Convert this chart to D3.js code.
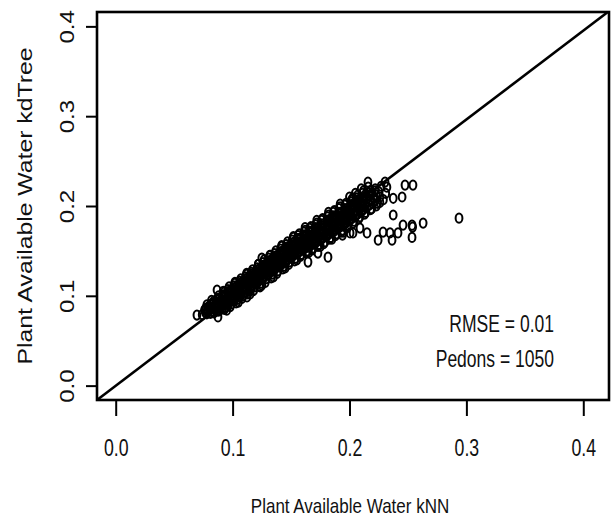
<!DOCTYPE html>
<html>
<head>
<meta charset="utf-8">
<script src="https://cdn.jsdelivr.net/npm/d3@7"></script>
<style>
  body { margin: 0; background: #fff; }
  svg { display: block; font-family: "Liberation Sans", Arial, sans-serif; }
</style>
</head>
<body>
<svg id="chart" width="611" height="521"></svg>
<script>
// plant available water, kNN estimate vs kdTree estimate
const bandPoints = [
  [0.074,0.079],[0.076,0.084],[0.077,0.081],
  [0.079,0.082],[0.080,0.088],[0.081,0.085],[0.082,0.091],
  [0.084,0.081],[0.085,0.086],[0.086,0.090],[0.084,0.094],[0.087,0.097],
  [0.089,0.084],[0.090,0.088],[0.091,0.093],[0.089,0.097],[0.092,0.101],[0.091,0.090],
  [0.094,0.087],[0.095,0.091],[0.096,0.095],[0.094,0.099],[0.097,0.103],[0.096,0.107],
  [0.099,0.091],[0.100,0.095],[0.101,0.099],[0.099,0.103],[0.102,0.107],[0.101,0.111],[0.100,0.101],
  [0.104,0.096],[0.105,0.100],[0.106,0.104],[0.104,0.108],[0.107,0.112],[0.106,0.116],[0.105,0.106],
  [0.109,0.100],[0.110,0.104],[0.111,0.109],[0.109,0.113],[0.112,0.117],[0.111,0.121],[0.110,0.111],
  [0.114,0.105],[0.115,0.109],[0.116,0.114],[0.114,0.118],[0.117,0.122],[0.116,0.126],[0.115,0.116],
  [0.119,0.110],[0.120,0.114],[0.121,0.119],[0.119,0.123],[0.122,0.127],[0.121,0.131],[0.120,0.121],
  [0.124,0.114],[0.125,0.119],[0.126,0.124],[0.124,0.128],[0.127,0.132],[0.126,0.137],[0.125,0.126],
  [0.129,0.119],[0.130,0.124],[0.131,0.129],[0.129,0.133],[0.132,0.137],[0.131,0.142],[0.130,0.131],
  [0.134,0.124],[0.135,0.129],[0.136,0.134],[0.134,0.138],[0.137,0.142],[0.136,0.147],[0.135,0.136],
  [0.139,0.128],[0.140,0.133],[0.141,0.138],[0.139,0.143],[0.142,0.147],[0.141,0.152],[0.140,0.141],[0.142,0.135],
  [0.144,0.133],[0.145,0.138],[0.146,0.143],[0.144,0.148],[0.147,0.152],[0.146,0.157],[0.145,0.146],[0.147,0.140],
  [0.149,0.138],[0.150,0.143],[0.151,0.148],[0.149,0.153],[0.152,0.157],[0.151,0.162],[0.150,0.151],[0.152,0.145],
  [0.154,0.142],[0.155,0.147],[0.156,0.152],[0.154,0.157],[0.157,0.162],[0.156,0.167],[0.155,0.155],[0.157,0.150],
  [0.159,0.146],[0.160,0.151],[0.161,0.156],[0.159,0.161],[0.162,0.166],[0.161,0.171],[0.160,0.159],[0.162,0.153],
  [0.164,0.150],[0.165,0.155],[0.166,0.160],[0.164,0.165],[0.167,0.170],[0.166,0.175],[0.165,0.163],[0.167,0.157],
  [0.169,0.153],[0.170,0.158],[0.171,0.164],[0.169,0.169],[0.172,0.174],[0.171,0.179],[0.170,0.167],[0.172,0.161],
  [0.174,0.157],[0.175,0.162],[0.176,0.168],[0.174,0.173],[0.177,0.178],[0.176,0.184],[0.175,0.171],[0.177,0.165],
  [0.179,0.160],[0.180,0.166],[0.181,0.172],[0.179,0.177],[0.182,0.182],[0.181,0.188],[0.180,0.175],[0.182,0.169],
  [0.184,0.165],[0.185,0.171],[0.186,0.177],[0.184,0.182],[0.187,0.187],[0.186,0.193],[0.185,0.180],[0.187,0.174],
  [0.189,0.169],[0.190,0.175],[0.191,0.181],[0.189,0.186],[0.192,0.191],[0.191,0.197],[0.190,0.184],[0.192,0.178],
  [0.194,0.173],[0.195,0.179],[0.196,0.185],[0.194,0.190],[0.197,0.195],[0.196,0.201],[0.195,0.188],[0.197,0.182],
  [0.199,0.178],[0.200,0.184],[0.201,0.189],[0.199,0.194],[0.202,0.199],[0.201,0.205],[0.200,0.192],[0.203,0.209],
  [0.204,0.183],[0.205,0.189],[0.206,0.194],[0.204,0.199],[0.207,0.204],[0.206,0.209],[0.205,0.214],
  [0.209,0.188],[0.210,0.194],[0.211,0.199],[0.209,0.204],[0.212,0.209],[0.211,0.214],[0.210,0.219],
  [0.214,0.193],[0.215,0.199],[0.216,0.205],[0.214,0.210],[0.217,0.215],[0.216,0.221],
  [0.219,0.197],[0.220,0.203],[0.221,0.209],[0.219,0.214],[0.222,0.219],
  [0.224,0.203],[0.226,0.210],[0.225,0.216],[0.227,0.222],
  [0.229,0.207],[0.231,0.214],[0.232,0.221]
];

const bandFillPoints = [
  [0.078,0.080],[0.077,0.086],[0.078,0.090],
  [0.083,0.083],[0.082,0.087],[0.083,0.092],[0.082,0.095],
  [0.088,0.083],[0.087,0.088],[0.088,0.092],[0.087,0.096],[0.088,0.100],
  [0.093,0.085],[0.092,0.090],[0.093,0.095],[0.092,0.099],[0.093,0.104],
  [0.098,0.088],[0.097,0.093],[0.098,0.097],[0.097,0.102],[0.098,0.106],[0.097,0.110],
  [0.103,0.092],[0.102,0.097],[0.103,0.102],[0.102,0.106],[0.103,0.110],[0.102,0.114],
  [0.108,0.097],[0.107,0.102],[0.108,0.107],[0.107,0.111],[0.108,0.115],[0.107,0.119],
  [0.113,0.102],[0.112,0.107],[0.113,0.112],[0.112,0.116],[0.113,0.120],[0.112,0.124],
  [0.118,0.106],[0.117,0.111],[0.118,0.116],[0.117,0.121],[0.118,0.125],[0.117,0.129],
  [0.123,0.111],[0.122,0.116],[0.123,0.121],[0.122,0.126],[0.123,0.130],[0.122,0.135],
  [0.128,0.115],[0.127,0.121],[0.128,0.126],[0.127,0.131],[0.128,0.135],[0.127,0.140],
  [0.133,0.120],[0.132,0.126],[0.133,0.131],[0.132,0.136],[0.133,0.140],[0.132,0.145],
  [0.138,0.125],[0.137,0.131],[0.138,0.136],[0.137,0.141],[0.138,0.145],[0.137,0.150],
  [0.143,0.130],[0.142,0.136],[0.143,0.141],[0.142,0.146],[0.143,0.150],[0.142,0.155],
  [0.148,0.135],[0.147,0.141],[0.148,0.146],[0.147,0.151],[0.148,0.155],[0.147,0.160],
  [0.153,0.139],[0.152,0.145],[0.153,0.150],[0.152,0.155],[0.153,0.160],[0.152,0.165],
  [0.158,0.144],[0.157,0.149],[0.158,0.154],[0.157,0.159],[0.158,0.164],[0.157,0.169],
  [0.163,0.148],[0.162,0.153],[0.163,0.158],[0.162,0.163],[0.163,0.168],[0.162,0.173],
  [0.168,0.151],[0.167,0.156],[0.168,0.162],[0.167,0.167],[0.168,0.172],[0.167,0.177],
  [0.173,0.155],[0.172,0.160],[0.173,0.166],[0.172,0.171],[0.173,0.176],[0.172,0.181],
  [0.178,0.158],[0.177,0.164],[0.178,0.170],[0.177,0.175],[0.178,0.180],[0.177,0.186],
  [0.183,0.163],[0.182,0.168],[0.183,0.174],[0.182,0.179],[0.183,0.185],[0.182,0.190],
  [0.188,0.167],[0.187,0.172],[0.188,0.178],[0.187,0.184],[0.188,0.189],[0.187,0.195],
  [0.193,0.171],[0.192,0.177],[0.193,0.183],[0.192,0.188],[0.193,0.193],[0.192,0.199],
  [0.198,0.176],[0.197,0.181],[0.198,0.187],[0.197,0.192],[0.198,0.197],[0.197,0.203],
  [0.203,0.181],[0.202,0.186],[0.203,0.192],[0.202,0.197],[0.203,0.202],[0.202,0.207],
  [0.208,0.186],[0.207,0.191],[0.208,0.197],[0.207,0.202],[0.208,0.207],[0.207,0.212],
  [0.213,0.191],[0.212,0.196],[0.213,0.202],[0.212,0.207],[0.213,0.212],[0.212,0.217],
  [0.218,0.196],[0.217,0.201],[0.218,0.207],[0.217,0.212],[0.218,0.217],
  [0.223,0.200],[0.222,0.206],[0.223,0.212],[0.222,0.217]
];

const bandCorePoints = [
  [0.081,0.0805],[0.081,0.0855],[0.081,0.090],
  [0.086,0.083],[0.086,0.088],[0.086,0.093],
  [0.091,0.086],[0.091,0.091],[0.091,0.096],[0.091,0.100],
  [0.096,0.089],[0.096,0.094],[0.096,0.099],[0.096,0.104],
  [0.101,0.094],[0.101,0.0995],[0.101,0.1045],[0.101,0.109],
  [0.106,0.099],[0.106,0.1045],[0.106,0.1095],[0.106,0.114],
  [0.111,0.104],[0.111,0.1095],[0.111,0.1145],[0.111,0.119],
  [0.116,0.109],[0.116,0.1145],[0.116,0.1195],[0.116,0.124],
  [0.121,0.114],[0.121,0.1195],[0.121,0.1245],[0.121,0.129],
  [0.126,0.119],[0.126,0.1245],[0.126,0.1295],[0.126,0.134],
  [0.131,0.124],[0.131,0.1295],[0.131,0.1345],[0.131,0.139],
  [0.136,0.129],[0.136,0.1345],[0.136,0.1395],[0.136,0.144],
  [0.141,0.134],[0.141,0.1395],[0.141,0.1445],[0.141,0.149],
  [0.146,0.139],[0.146,0.1445],[0.146,0.1495],[0.146,0.154],
  [0.151,0.144],[0.151,0.1495],[0.151,0.1545],[0.151,0.159],
  [0.156,0.149],[0.156,0.1545],[0.156,0.1595],[0.156,0.164],
  [0.161,0.153],[0.161,0.1585],[0.161,0.1635],[0.161,0.168],
  [0.166,0.157],[0.166,0.1625],[0.166,0.1675],[0.166,0.172],
  [0.171,0.161],[0.171,0.1665],[0.171,0.1715],[0.171,0.176],
  [0.176,0.165],[0.176,0.1705],[0.176,0.1755],[0.176,0.180],
  [0.181,0.169],[0.181,0.1745],[0.181,0.1795],[0.181,0.184],
  [0.186,0.174],[0.186,0.1795],[0.186,0.1845],[0.186,0.189],
  [0.191,0.178],[0.191,0.1835],[0.191,0.1885],[0.191,0.193],
  [0.196,0.182],[0.196,0.1875],[0.196,0.1925],[0.196,0.197],
  [0.201,0.186],[0.201,0.1915],[0.201,0.1965],[0.201,0.201],
  [0.206,0.190],[0.206,0.1955],[0.206,0.2005],[0.206,0.205],
  [0.211,0.196],[0.211,0.2015],[0.211,0.2065]
];

const bandEdgePoints = [
  [0.095,0.084],[0.105,0.093],[0.115,0.102],[0.125,0.112],[0.135,0.121],[0.145,0.131],
  [0.155,0.140],[0.165,0.148],[0.175,0.155],[0.185,0.163],[0.195,0.171],
  [0.092,0.105],[0.102,0.115],[0.112,0.125],[0.122,0.135],[0.132,0.145],[0.142,0.156],
  [0.152,0.166],[0.162,0.176],[0.172,0.184],[0.182,0.193],[0.192,0.202],[0.200,0.210]
];

const outlierPoints = [
  [0.0695,0.0786],[0.0867,0.1065],[0.079,0.0875],[0.0875,0.0764],[0.1235,0.110],
  [0.125,0.142],[0.1123,0.0987],[0.1816,0.143],[0.1645,0.1376],[0.173,0.1476],
  [0.2005,0.170],[0.194,0.1676],[0.209,0.1754],[0.203,0.170],[0.215,0.170],
  [0.2245,0.162],[0.2287,0.171],[0.2347,0.170],[0.2364,0.162],[0.2415,0.170],
  [0.2374,0.190],[0.2458,0.1788],[0.2535,0.1786],[0.254,0.1765],[0.2535,0.165],
  [0.263,0.181],[0.2937,0.1865],[0.2475,0.2233],[0.2543,0.2233],[0.245,0.210],
  [0.2374,0.2086],[0.2304,0.2266],[0.2158,0.2266],[0.226,0.204]
];

const xTicks = [0.0, 0.1, 0.2, 0.3, 0.4];
const yTicks = [0.0, 0.1, 0.2, 0.3, 0.4];
const refLine = [[-0.016, -0.016], [0.421, 0.416]];
const statsText = ["RMSE = 0.01", "Pedons = 1050"];

const svg = d3.select("#chart");
const box = { left: 97, right: 609, top: 12, bottom: 400 };

const x = d3.scaleLinear().domain([-0.016, 0.422]).range([box.left, box.right]);
const y = d3.scaleLinear().domain([-0.016, 0.416]).range([box.bottom, box.top]);

const allPoints = bandPoints.concat(bandFillPoints, bandCorePoints, bandEdgePoints, outlierPoints);

// points
svg.append("g")
  .attr("fill", "none")
  .attr("stroke", "#000")
  .attr("stroke-width", 2)
  .selectAll("ellipse")
  .data(allPoints)
  .join("ellipse")
  .attr("cx", d => x(d[0]))
  .attr("cy", d => y(d[1]))
  .attr("rx", 3.4)
  .attr("ry", 4.6);

// 1:1 line
svg.append("path")
  .datum(refLine)
  .attr("fill", "none")
  .attr("stroke", "#000")
  .attr("stroke-width", 2.6)
  .attr("d", d3.line().x(d => x(d[0])).y(d => y(d[1])));

// box
svg.append("rect")
  .attr("x", box.left).attr("y", box.top)
  .attr("width", box.right - box.left).attr("height", box.bottom - box.top)
  .attr("fill", "none").attr("stroke", "#000").attr("stroke-width", 2.6);

// x axis
const gx = svg.append("g")
  .attr("transform", `translate(0,${box.bottom})`)
  .call(d3.axisBottom(x).tickValues(xTicks).tickSize(16).tickFormat(d3.format(".1f")));
gx.select(".domain").remove();
gx.selectAll("line").attr("stroke-width", 2);
gx.selectAll("text")
  .attr("y", null).attr("dy", null)
  .attr("transform", "translate(0,56) scale(0.77,1)")
  .attr("text-anchor", "middle")
  .attr("font-size", 23)
  .attr("fill", "#111");

// y axis
const gy = svg.append("g")
  .attr("transform", `translate(${box.left},0)`)
  .call(d3.axisLeft(y).tickValues(yTicks).tickSize(11).tickFormat(d3.format(".1f")));
gy.select(".domain").remove();
gy.selectAll("line").attr("stroke-width", 2);
gy.selectAll("text")
  .attr("x", null).attr("dy", null)
  .attr("transform", "translate(-23,0) rotate(-90) scale(1.2,1)")
  .attr("text-anchor", "middle")
  .attr("font-size", 20)
  .attr("fill", "#111");

// axis titles
svg.append("text")
  .attr("transform", "translate(350,513) scale(0.81,1)")
  .attr("text-anchor", "middle")
  .attr("font-size", 21)
  .attr("fill", "#111")
  .text("Plant Available Water kNN");

svg.append("text")
  .attr("transform", "translate(32,206) rotate(-90) scale(1.18,1)")
  .attr("text-anchor", "middle")
  .attr("font-size", 21)
  .attr("fill", "#111")
  .text("Plant Available Water kdTree");

// stats
svg.selectAll(".stat")
  .data(statsText)
  .join("text")
  .attr("class", "stat")
  .attr("transform", (d, i) => `translate(554,${332 + i * 35}) scale(0.73,1)`)
  .attr("text-anchor", "end")
  .attr("font-size", 24)
  .attr("fill", "#111")
  .text(d => d);
</script>
</body>
</html>
